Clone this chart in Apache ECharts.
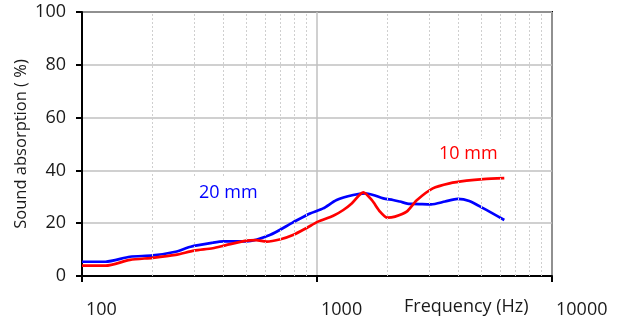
<!DOCTYPE html>
<html>
<head>
<meta charset="utf-8">
<script src="https://cdn.jsdelivr.net/npm/echarts@6/dist/echarts.min.js"></script>
<style>
  html, body { margin: 0; padding: 0; background: #fff; }
</style>
</head>
<body>
<div id="chart" style="width: 623px; height: 324px;"></div>
<script>
// frequency (Hz) / absorption (%)
const freq20 = [100, 126, 160, 200, 250, 290, 360, 400, 500, 630, 790, 934, 1062, 1212, 1426, 1600, 1733, 1914, 2105, 2253, 2486, 2566, 3058, 3507, 3968, 4446, 5112, 6267];
const abs20  = [5.4, 5.4, 7.3, 7.8, 9.2, 11.1, 12.6, 13.1, 13.1, 15.5, 20.3, 23.7, 25.6, 28.8, 30.7, 31.3, 30.7, 29.4, 28.8, 28.2, 27.3, 27.3, 27.1, 28.2, 29.2, 28.4, 25.6, 21.2];

const freq10 = [100, 126, 160, 200, 250, 300, 360, 410, 500, 550, 610, 700, 790, 900, 1010, 1173, 1294, 1405, 1574, 1709, 1854, 1992, 2148, 2408, 2650, 3110, 3665, 4327, 5106, 6266];
const abs10  = [3.9, 3.9, 6.1, 6.9, 8.0, 9.6, 10.5, 11.7, 13.4, 13.6, 13.0, 13.9, 15.5, 18.1, 20.6, 22.8, 25.0, 27.5, 31.7, 28.8, 24.4, 22.1, 22.5, 24.4, 28.6, 33.2, 35.1, 36.1, 36.7, 37.1];

// minor vertical gridlines
const minorFreqs = [200, 300, 400, 500, 600, 700, 800, 900, 2000, 3000, 4000, 5000, 6000, 7000, 8000, 9000];

const font = 'Open Sans';

function pairs(xs, ys) {
  return xs.map(function (x, i) { return [x, ys[i]]; });
}

const chart = echarts.init(document.getElementById('chart'));
chart.setOption({
  animation: false,
  grid: {
    left: 82, right: 71, top: 12, bottom: 48,
    show: true, borderColor: '#000', borderWidth: 2
  },
  xAxis: {
    type: 'log',
    logBase: 10,
    min: 100,
    max: 10000,
    axisLine: { lineStyle: { color: '#000', width: 2 } },
    axisTick: { show: true, inside: false, length: 6, lineStyle: { color: '#000', width: 2 } },
    axisLabel: {
      fontFamily: font, fontSize: 18, color: '#1a1a1a',
      align: 'left', padding: [0, 0, 0, 4], margin: 25,
      formatter: function (v) { return String(Math.round(v)); }
    },
    splitLine: { show: true, lineStyle: { color: '#c0c0c0', width: 1.5 } }
  },
  yAxis: {
    type: 'value',
    min: 0, max: 100, interval: 20,
    name: 'Sound absorption ( %)',
    nameLocation: 'middle',
    nameGap: 52,
    nameMoveOverlap: false,
    nameTextStyle: { fontFamily: font, fontSize: 16.5, color: '#1a1a1a' },
    axisLine: { show: true, lineStyle: { color: '#000', width: 2 } },
    axisTick: { show: true, length: 6, lineStyle: { color: '#000', width: 2 } },
    axisLabel: { fontFamily: font, fontSize: 18, color: '#1a1a1a', margin: 16 },
    splitLine: { show: true, lineStyle: { color: '#c0c0c0', width: 1.5 } }
  },
  series: [
    {
      type: 'line', z: 1, data: [], silent: true,
      markLine: {
        silent: true, symbol: 'none', animation: false,
        label: { show: false },
        lineStyle: { color: '#cfcfcf', type: [2, 2], width: 1 },
        data: minorFreqs.map(function (f) { return { xAxis: f }; })
      }
    },
    {
      name: '20 mm', type: 'line', z: 3,
      data: pairs(freq20, abs20),
      showSymbol: false, smooth: 0.25,
      lineStyle: { color: '#0000ff', width: 2.7 }
    },
    {
      name: '10 mm', type: 'line', z: 4,
      data: pairs(freq10, abs10),
      showSymbol: false, smooth: 0.25,
      lineStyle: { color: '#ff0000', width: 2.7 }
    }
  ],
  graphic: [
    {
      type: 'text', left: 404, top: 298, z: 10,
      style: { text: 'Frequency (Hz)', font: '18px "Open Sans"', fill: '#1a1a1a' }
    },
    {
      type: 'text', left: 189, top: 178, z: 10,
      style: {
        text: '20 mm', font: '18px "Open Sans"', fill: '#0000ff',
        backgroundColor: '#fff', padding: [6, 10, 6, 10]
      }
    },
    {
      type: 'text', left: 425, top: 139, z: 10,
      style: {
        text: '10 mm', font: '18px "Open Sans"', fill: '#ff0000',
        backgroundColor: '#fff', padding: [6, 14, 6, 14]
      }
    }
  ]
});
</script>
</body>
</html>
